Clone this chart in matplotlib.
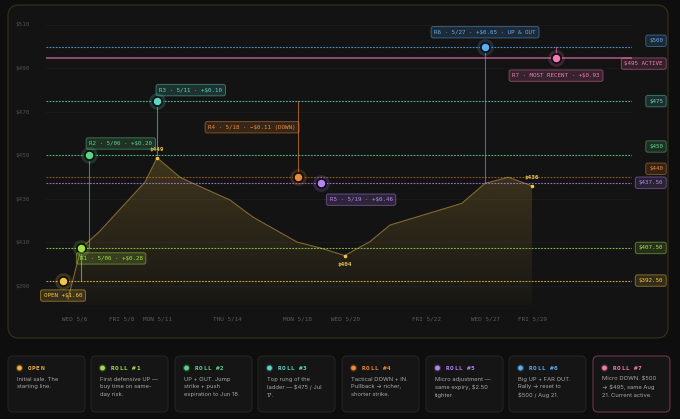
import matplotlib
matplotlib.use('Agg')
import matplotlib.pyplot as plt
import numpy as np
from matplotlib.patches import FancyBboxPatch, Circle, Polygon
from matplotlib import transforms
import matplotlib.colors as mcolors

# ---------------- data ----------------
price_t = [-0.30, 0.26, 1.02, 2.98, 3.49, 4.47, 4.98, 6.60, 7.57, 9.45,
           10.43, 11.48, 12.55, 13.40, 16.46, 17.45, 18.44, 19.45]
price_v = [384.0, 407.5, 414.8, 437.8, 449.0, 440.0, 437.4, 429.5, 421.7, 410.2,
           407.5, 404.0, 410.4, 418.0, 428.0, 437.2, 440.0, 436.0]

callout_t = [3.49, 11.48, 19.45]
callout_v = [449, 404, 436]

event_t = [-0.51, 0.26, 0.61, 3.50, 9.48, 10.47, 17.45, 20.47]
event_strike = [392.5, 407.5, 450, 475, 440, 437.5, 500, 495]
event_labels = ['OPEN +$1.60', 'R1 · 5/06 · +$0.28', 'R2 · 5/06 · +$0.20',
                'R3 · 5/11 · +$0.10', 'R4 · 5/18 · −$0.11 (DOWN)',
                'R5 · 5/19 · +$0.46', 'R6 · 5/27 · +$0.65 · UP & OUT',
                'R7 · MOST RECENT · +$0.93']
strike_tags = ['$392.50', '$407.50', '$450', '$475', '$440', '$437.50', '$500', '$495 ACTIVE']

tick_t = [0, 2.0, 3.49, 6.47, 9.45, 11.49, 14.94, 17.45, 19.45]
tick_labels = ['WED 5/6', 'FRI 5/8', 'MON 5/11', 'THU 5/14', 'MON 5/18',
               'WED 5/20', 'FRI 5/22', 'WED 5/27', 'FRI 5/29']
ytick_vals = [390, 410, 430, 450, 470, 490, 510]

card_titles = ['OPEN', 'ROLL #1', 'ROLL #2', 'ROLL #3', 'ROLL #4', 'ROLL #5', 'ROLL #6', 'ROLL #7']
card_texts = ['Initial sale. The\nstarting line.',
              'First defensive UP —\nbuy time on same-\nday risk.',
              'UP + OUT. Jump\nstrike + push\nexpiration to Jun 18.',
              'Top rung of the\nladder — $475 / Jul\n17.',
              'Tactical DOWN + IN.\nPullback → richer,\nshorter strike.',
              'Micro adjustment —\nsame expiry, $2.50\ntighter.',
              'Big UP + FAR OUT.\nRally → reset to\n$500 / Aug 21.',
              'Micro DOWN. $500\n→ $495, same Aug\n21. Current active.']

# ---------------- styles ----------------
colors = ['#f5c542', '#a3e048', '#5ed68a', '#5dd6c6', '#f08a35', '#b584f5', '#5aaef5', '#f27ab5']
card_dot_colors = ['#f0b43a', '#a3e048', '#5ed68a', '#5dd6c6', '#f08a35', '#b584f5', '#5aaef5', '#f27ab5']
# label placement (offset pixels, alignment)
lab_style = [(0, -15, 'center'), (-1.5, -10.5, 'left'), (0, 12, 'left'), (2, 11, 'left'),
             (-2, 50, 'right'), (8.5, -17, 'left'), (0, 14.5, 'center'), (0, -18, 'center')]
tag_dy = [0, 0, 9, 0, 8.5, 0, 6, -6]   # upward pixel shifts of right-edge tags
MONO = 'DejaVu Sans Mono'
BG_OUT = '#0e0e0e'
BG_CARD = '#131313'

W, H = 680, 419
fig = plt.figure(figsize=(W / 100, H / 100), dpi=100, facecolor=BG_OUT)

bg = fig.add_axes([0, 0, 1, 1], zorder=0)
bg.set_xlim(0, W)
bg.set_ylim(H, 0)
bg.axis('off')
bg.set_facecolor(BG_OUT)

bg.add_patch(FancyBboxPatch((8, 5), 660, 333, boxstyle='round,pad=0,rounding_size=11',
                            fc=BG_CARD, ec='#342d17', lw=0.9))

# main axes
left, right, top, bottom = 46, 632, 20, 305
ax = fig.add_axes([left / W, 1 - bottom / H, (right - left) / W, (bottom - top) / H], zorder=1)
ax.set_facecolor('none')
xl = ((left - 75) / 23.5, (right - 75) / 23.5)
yl = (390 - (bottom - 286) / 2.175, 390 + (286 - top) / 2.175)
ax.set_xlim(*xl)
ax.set_ylim(*yl)
for s in ax.spines.values():
    s.set_visible(False)
ax.set_xticks([])
ax.set_yticks([])

# grid
for v in ytick_vals:
    ax.axhline(v, color='#1c1c1c', lw=0.6, zorder=1)

ytrans = transforms.blended_transform_factory(bg.transData, ax.transData)
for v in ytick_vals:
    ax.text(15, v, f'${v}', transform=ytrans, ha='left', va='center',
            fontsize=4.3, family=MONO, color='#4f4f4f')

xtrans = transforms.blended_transform_factory(ax.transData, bg.transData)
for t, lab in zip(tick_t, tick_labels):
    ax.text(t, 319, lab, transform=xtrans, ha='center', va='center',
            fontsize=4.3, family=MONO, color='#5a5a5a')

# gradient fill under price
poly_x = list(price_t) + [price_t[-1], price_t[0]]
poly_y = list(price_v) + [yl[0], yl[0]]
poly = Polygon(np.column_stack([poly_x, poly_y]), closed=True, fc='none', ec='none')
ax.add_patch(poly)
ny = 200
yy = np.linspace(yl[0], yl[1], ny)
alpha = np.clip(0.03 + (yy - yl[0]) / (450 - yl[0]) * 0.22, 0.02, 0.26)
rgba = np.zeros((ny, 2, 4))
rgba[..., 0] = 200 / 255
rgba[..., 1] = 160 / 255
rgba[..., 2] = 60 / 255
rgba[..., 3] = alpha[:, None]
im = ax.imshow(rgba, extent=[xl[0], xl[1], yl[0], yl[1]], origin='lower',
               aspect='auto', zorder=2, interpolation='bilinear')
im.set_clip_path(poly)
ax.plot(price_t, price_v, color='#806830', lw=0.8, zorder=3)

# strike lines
for i, (k, c) in enumerate(zip(event_strike, colors)):
    if i == 7:
        ax.axhline(k, color=c, lw=1.1, alpha=0.7, zorder=4)
    else:
        a = 0.55 if i == 4 else 0.8
        ax.axhline(k, color=c, lw=0.8, alpha=a, ls=(0, (1.6, 1.2)), zorder=4)

# connectors from marker to previous strike
for i in range(1, len(event_t)):
    ax.plot([event_t[i], event_t[i]], [event_strike[i - 1], event_strike[i]],
            color=colors[i], lw=0.8, alpha=0.6, zorder=4)

# price callouts
for t, v in zip(callout_t, callout_v):
    ax.plot([t], [v], 'o', ms=2.6, color='#f5c542', mec='none', zorder=6)
    dy = -9 if v == min(callout_v) else 8
    ax.annotate(f'${v}', (t, v), xytext=(0, dy), textcoords='offset pixels',
                ha='center', va='center', fontsize=4.3, family=MONO,
                color='#e8c14a', fontweight='bold', zorder=7)

# markers
for i, (t, k, c) in enumerate(zip(event_t, event_strike, colors)):
    ax.plot([t], [k], 'o', ms=12, color=c, alpha=0.18, mec='none', zorder=7)
    ax.plot([t], [k], 'o', ms=6.6, color=c, mec='#0d0d0d', mew=1.2, zorder=8)
    dx, dy, ha = lab_style[i]
    fc = mcolors.to_rgba(c, 0.16)
    ec = mcolors.to_rgba(c, 0.45)
    ax.annotate(event_labels[i], (t, k), xytext=(dx, dy), textcoords='offset pixels',
                ha=ha, va='center', fontsize=4.2, family=MONO, color=c, zorder=9,
                bbox=dict(boxstyle='round,pad=0.55,rounding_size=0.35', fc=fc, ec=ec, lw=0.7))

# right-edge strike tags
for i, (k, c, tag) in enumerate(zip(event_strike, colors, strike_tags)):
    tr = transforms.offset_copy(ytrans, fig=fig, x=0, y=tag_dy[i], units='dots')
    ax.text(663, k, tag, transform=tr, ha='right', va='center', fontsize=4.2,
            family=MONO, color=c, zorder=9, clip_on=False,
            bbox=dict(boxstyle='round,pad=0.55,rounding_size=0.35',
                      fc=mcolors.to_rgba(c, 0.14), ec=mcolors.to_rgba(c, 0.45), lw=0.7))

# bottom cards
card_x = [8, 91, 175, 258, 342, 426, 509, 593]
for i, x0 in enumerate(card_x):
    ec = '#6a3450' if i == 7 else '#232323'
    bg.add_patch(FancyBboxPatch((x0, 356), 77, 56, boxstyle='round,pad=0,rounding_size=5',
                                fc='#151515', ec=ec, lw=0.8))
    c = card_dot_colors[i]
    bg.add_patch(Circle((x0 + 11.5, 368), 3.6, fc=c, alpha=0.25, ec='none'))
    bg.add_patch(Circle((x0 + 11.5, 368), 2.4, fc=c, ec='none'))
    # letter-spaced title
    for j, ch in enumerate(card_titles[i]):
        bg.text(x0 + 19.5 + j * 4.25, 368.3, ch, ha='left', va='center',
                fontsize=4.4, family=MONO, fontweight='bold', color=c)
    bg.text(x0 + 9, 376.5, card_texts[i], ha='left', va='top', fontsize=4.2,
            family=['Inter', 'DejaVu Sans'], color='#a8a8a8', linespacing=1.65)

fig.savefig('out.png', dpi=100, facecolor=BG_OUT)
